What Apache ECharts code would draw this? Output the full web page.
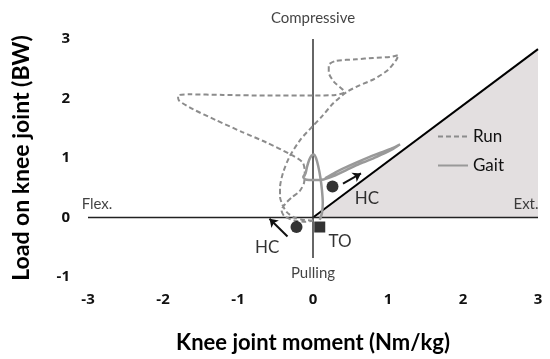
<!DOCTYPE html>
<html>
<head>
<meta charset="utf-8">
<script src="https://cdn.jsdelivr.net/npm/echarts@6/dist/echarts.min.js"></script>
<style>
  html, body { margin: 0; padding: 0; background: #fff; }
  #chart { width: 550px; height: 359px; }
</style>
</head>
<body>
<div id="chart"></div>
<script>
// axes
const xTicks = [-3, -2, -1, 0, 1, 2, 3]
const yTicks = [-1, 0, 1, 2, 3]

// run (dashed) - knee moment / knee load, in time order
const runMoment = [0.00, -0.12, -0.25, -0.35, -0.41, -0.44, -0.44, -0.40, -0.31, -0.16, 0.00, 0.12, 0.27, 0.45, 0.62, 0.82, 1.00, 1.11, 1.14, 1.03, 0.80, 0.58, 0.30, 0.21, 0.21, 0.28, 0.42, 0.30, 0.00, -0.60, -1.20, -1.65, -1.80, -1.79, -1.60, -1.30, -0.95, -0.62, -0.30, -0.14, -0.11, -0.12, -0.18, -0.28, -0.37, -0.42, -0.38, -0.25, -0.10, 0.00]
const runLoad = [-0.05, -0.04, 0.00, 0.09, 0.22, 0.35, 0.50, 0.75, 1.03, 1.32, 1.54, 1.70, 1.92, 2.11, 2.22, 2.33, 2.48, 2.65, 2.73, 2.70, 2.68, 2.66, 2.63, 2.56, 2.44, 2.28, 2.11, 2.06, 2.05, 2.05, 2.06, 2.07, 2.05, 1.97, 1.82, 1.64, 1.44, 1.26, 1.06, 0.93, 0.78, 0.58, 0.44, 0.34, 0.23, 0.12, 0.02, -0.05, -0.07, -0.05]

// gait (solid)
const gaitMoment = [0.16, 0.30, 0.50, 0.70, 0.90, 1.05, 1.16, 1.05, 0.85, 0.62, 0.45, 0.28, 0.14, 0.02, -0.10, -0.13, -0.10, -0.08, -0.05, -0.02, 0.01, 0.04, 0.07, 0.10, 0.12, 0.13, 0.12, 0.09]
const gaitLoad = [0.66, 0.76, 0.88, 0.99, 1.09, 1.16, 1.23, 1.14, 1.02, 0.90, 0.80, 0.70, 0.64, 0.63, 0.64, 0.68, 0.74, 0.85, 0.97, 1.04, 1.06, 1.00, 0.86, 0.66, 0.45, 0.25, 0.08, -0.04]

// boundary line of the shaded extension region
const boundary = [[0, 0], [3, 2.83]]
const zeroLine = [[-3, 0], [3, 0]]
const vertLine = [[0, -0.68], [0, 3]]

// events
const hcPoints = [[0.26, 0.52], [-0.22, -0.16]]
const toPoints = [[0.09, -0.16]]
const arrows = [
	[[0.40, 0.57], [0.64, 0.74]],
	[[-0.34, -0.32], [-0.58, -0.02]]
]

// text annotations
const regionLabels = [[0, 3.35, 'Compressive'], [0, -0.93, 'Pulling'], [-2.88, 0.23, 'Flex.'], [2.84, 0.23, 'Ext.']]
const eventLabels = [[0.72, 0.32, 'HC'], [-0.61, -0.5, 'HC'], [0.36, -0.4, 'TO']]

const zip = (xs, ys) => xs.map((x, i) => [x, ys[i]])
const font = 'Lato, "Open Sans", sans-serif'

const tickLabel = { fontSize: 15, fontWeight: 'bold', color: '#111', fontFamily: '"Open Sans", sans-serif' }

const chart = echarts.init(document.getElementById('chart'))
chart.setOption({
	animation: false,
	textStyle: { fontFamily: font },
	grid: { left: 88, right: 12, top: 39, bottom: 81 },
	legend: {
		data: ['Run', 'Gait'],
		orient: 'vertical',
		left: 432,
		top: 123,
		itemWidth: 30,
		itemHeight: 12,
		itemGap: 12,
		itemStyle: { opacity: 0 },
		textStyle: { fontSize: 17, color: '#111', fontFamily: font }
	},
	xAxis: {
		type: 'value',
		min: xTicks[0],
		max: xTicks[xTicks.length - 1],
		interval: 1,
		name: 'Knee joint moment (Nm/kg)',
		nameLocation: 'middle',
		nameGap: 55,
		nameTextStyle: { fontSize: 22, fontWeight: 700, color: '#000', fontFamily: font },
		axisLine: { show: false },
		axisTick: { show: false },
		splitLine: { show: false },
		axisLabel: Object.assign({ margin: 15 }, tickLabel)
	},
	yAxis: {
		type: 'value',
		min: yTicks[0],
		max: yTicks[yTicks.length - 1],
		interval: 1,
		name: 'Load on knee joint (BW)',
		nameLocation: 'middle',
		nameGap: 55,
		nameTextStyle: { fontSize: 23, fontWeight: 700, color: '#000', fontFamily: font },
		axisLine: { show: false },
		axisTick: { show: false },
		splitLine: { show: false },
		axisLabel: Object.assign({ margin: 18 }, tickLabel)
	},
	series: [
		{
			type: 'line',
			data: boundary,
			symbol: 'none',
			z: 1,
			lineStyle: { color: '#000', width: 2 },
			areaStyle: { color: '#e3dfe0', opacity: 1 }
		},
		{
			type: 'line',
			data: zeroLine,
			symbol: 'none',
			z: 2,
			lineStyle: { color: '#222', width: 1.5 }
		},
		{
			type: 'line',
			data: vertLine,
			symbol: 'none',
			z: 2,
			lineStyle: { color: '#333', width: 1.5 }
		},
		{
			name: 'Run',
			type: 'line',
			data: zip(runMoment, runLoad),
			symbol: 'none',
			smooth: 0.25,
			z: 3,
			itemStyle: { color: '#8c8c8c' },
			lineStyle: { color: '#8c8c8c', width: 2, type: [5, 3] }
		},
		{
			name: 'Gait',
			type: 'line',
			data: zip(gaitMoment, gaitLoad),
			symbol: 'none',
			smooth: 0.25,
			z: 3,
			itemStyle: { color: '#999' },
			lineStyle: { color: '#999', width: 2.5 }
		},
		{
			type: 'lines',
			coordinateSystem: 'cartesian2d',
			data: arrows.map(c => ({ coords: c })),
			symbol: ['none', 'arrow'],
			symbolSize: [6, 8],
			z: 4,
			lineStyle: { color: '#111', width: 2, opacity: 1 }
		},
		{
			type: 'scatter',
			data: hcPoints,
			symbol: 'circle',
			symbolSize: 12,
			z: 5,
			itemStyle: { color: '#000' }
		},
		{
			type: 'scatter',
			data: toPoints,
			symbol: 'rect',
			symbolSize: 11,
			z: 5,
			itemStyle: { color: '#000' }
		},
		{
			type: 'scatter',
			data: regionLabels,
			symbolSize: 1,
			clip: false,
			z: 6,
			itemStyle: { color: 'rgba(0,0,0,0)' },
			label: {
				show: true,
				position: 'inside',
				formatter: p => p.value[2],
				fontSize: 15,
				color: '#111',
				fontFamily: font
			}
		},
		{
			type: 'scatter',
			data: eventLabels,
			symbolSize: 1,
			clip: false,
			z: 6,
			itemStyle: { color: 'rgba(0,0,0,0)' },
			label: {
				show: true,
				position: 'inside',
				formatter: p => p.value[2],
				fontSize: 17,
				color: '#000',
				fontFamily: font
			}
		}
	]
})
</script>
</body>
</html>
